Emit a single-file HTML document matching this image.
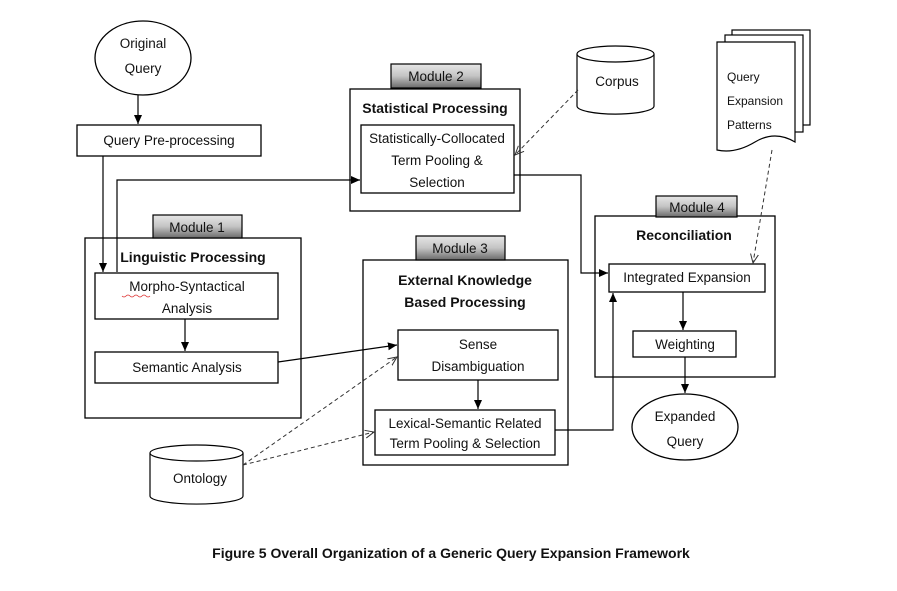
<!DOCTYPE html>
<html><head><style>
body{margin:0;background:#fff}
svg text{font-family:"Liberation Sans",sans-serif;fill:#111}
</style></head><body>
<svg width="897" height="586" viewBox="0 0 897 586" xmlns="http://www.w3.org/2000/svg">
<defs>
<marker id="a" markerWidth="10" markerHeight="10" refX="9" refY="5" orient="auto" markerUnits="userSpaceOnUse"><path d="M0,1 L9,5 L0,9 z" fill="#000"/></marker>
<marker id="d" markerWidth="10" markerHeight="10" refX="9" refY="5" orient="auto" markerUnits="userSpaceOnUse"><path d="M0,1 L9,5 L0,9" fill="none" stroke="#333"/></marker>
<linearGradient id="g" x1="0" y1="0" x2="0" y2="1"><stop offset="0" stop-color="#e6e6e6"/><stop offset="0.5" stop-color="#c4c4c4"/><stop offset="1" stop-color="#6a6a6a"/></linearGradient>
</defs>
<g fill="none" stroke="#000" stroke-width="1.3">
<ellipse cx="143" cy="58" rx="48" ry="37" fill="#fff"/>
<rect x="77" y="125" width="184" height="31"/>
<rect x="350" y="89" width="170" height="122"/>
<rect x="361" y="125" width="153" height="68"/>
<rect x="85" y="238" width="216" height="180"/>
<rect x="95" y="273" width="183" height="46"/>
<rect x="95" y="352" width="183" height="31"/>
<rect x="363" y="260" width="205" height="205"/>
<rect x="398" y="330" width="160" height="50"/>
<rect x="375" y="410" width="180" height="45"/>
<rect x="595" y="216" width="180" height="161"/>
<rect x="609" y="264" width="156" height="28"/>
<rect x="633" y="331" width="103" height="26"/>
<ellipse cx="685" cy="427" rx="53" ry="33" fill="#fff"/>
</g>
<g stroke="#000" stroke-width="1.2" fill="url(#g)">
<rect x="391" y="64" width="90" height="24"/>
<rect x="153" y="215" width="89" height="23"/>
<rect x="416" y="236" width="89" height="24"/>
<rect x="656" y="196" width="81" height="21"/>
</g>
<!-- cylinders -->
<g stroke="#000" stroke-width="1.2" fill="#fff">
<path d="M577,54 v52 a38,8 0 0 0 77,0 v-52"/><ellipse cx="615.5" cy="54" rx="38.5" ry="8"/>
<path d="M150,453 v43 a46,8 0 0 0 93,0 v-43"/><ellipse cx="196.5" cy="453" rx="46.5" ry="8"/>
<rect x="732" y="30" width="78" height="95"/>
<rect x="725" y="35" width="78" height="97"/>
<path d="M717,42 h78 v100 q-20,-12 -40,0 t-38,8 z"/>
</g>
<g fill="none" stroke="#000" stroke-width="1.2">
<path d="M138,95 V124" marker-end="url(#a)"/>
<path d="M103,156 V272" marker-end="url(#a)"/>
<path d="M117,272 V180 H360" marker-end="url(#a)"/>
<path d="M185,319 V351" marker-end="url(#a)"/>
<path d="M278,362 L397,345" marker-end="url(#a)"/>
<path d="M478,380 V409" marker-end="url(#a)"/>
<path d="M555,430 H613 V293" marker-end="url(#a)"/>
<path d="M514,175 H581 V273 H608" marker-end="url(#a)"/>
<path d="M683,292 V330" marker-end="url(#a)"/>
<path d="M685,357 V393" marker-end="url(#a)"/>
</g>
<g fill="none" stroke="#333" stroke-width="1" stroke-dasharray="4,3">
<path d="M578,90 L515,155" marker-end="url(#d)"/>
<path d="M772,150 L753,263" marker-end="url(#d)"/>
<path d="M243,465 L397,357" marker-end="url(#d)"/>
<path d="M243,465 L374,432" marker-end="url(#d)"/>
</g>
<g font-size="13.5" text-anchor="middle">
<text x="143" y="48">Original</text><text x="143" y="73">Query</text>
<text x="169" y="145">Query Pre-processing</text>
<text x="436" y="81">Module 2</text>
<text x="197" y="232">Module 1</text>
<text x="460" y="253">Module 3</text>
<text x="697" y="212">Module 4</text>
<text x="437" y="143">Statistically-Collocated</text>
<text x="437" y="165">Term Pooling &amp;</text>
<text x="437" y="187">Selection</text>
<text x="187" y="291">Morpho-Syntactical</text>
<text x="187" y="313">Analysis</text>
<text x="187" y="372">Semantic Analysis</text>
<text x="478" y="349">Sense</text>
<text x="478" y="371">Disambiguation</text>
<text x="465" y="428">Lexical-Semantic Related</text>
<text x="465" y="448">Term Pooling &amp; Selection</text>
<text x="687" y="282">Integrated Expansion</text>
<text x="685" y="349">Weighting</text>
<text x="685" y="421">Expanded</text><text x="685" y="446">Query</text>
<text x="617" y="86">Corpus</text>
<text x="200" y="483">Ontology</text>
</g>
<g font-size="12">
<text x="727" y="81">Query</text><text x="727" y="105">Expansion</text><text x="727" y="129">Patterns</text>
</g>
<g font-size="14" font-weight="bold" text-anchor="middle">
<text x="435" y="113">Statistical Processing</text>
<text x="193" y="262">Linguistic Processing</text>
<text x="465" y="285">External Knowledge</text>
<text x="465" y="307">Based Processing</text>
<text x="684" y="240">Reconciliation</text>
<text x="451" y="558" font-size="14">Figure 5 Overall Organization of a Generic Query Expansion Framework</text>
</g>
<path d="M122,296 q2,2 4,0 t4,0 t4,0 t4,0 t4,0 t4,0 t4,0" stroke="#d33" fill="none" stroke-width="0.8"/>
</svg>
</body></html>
